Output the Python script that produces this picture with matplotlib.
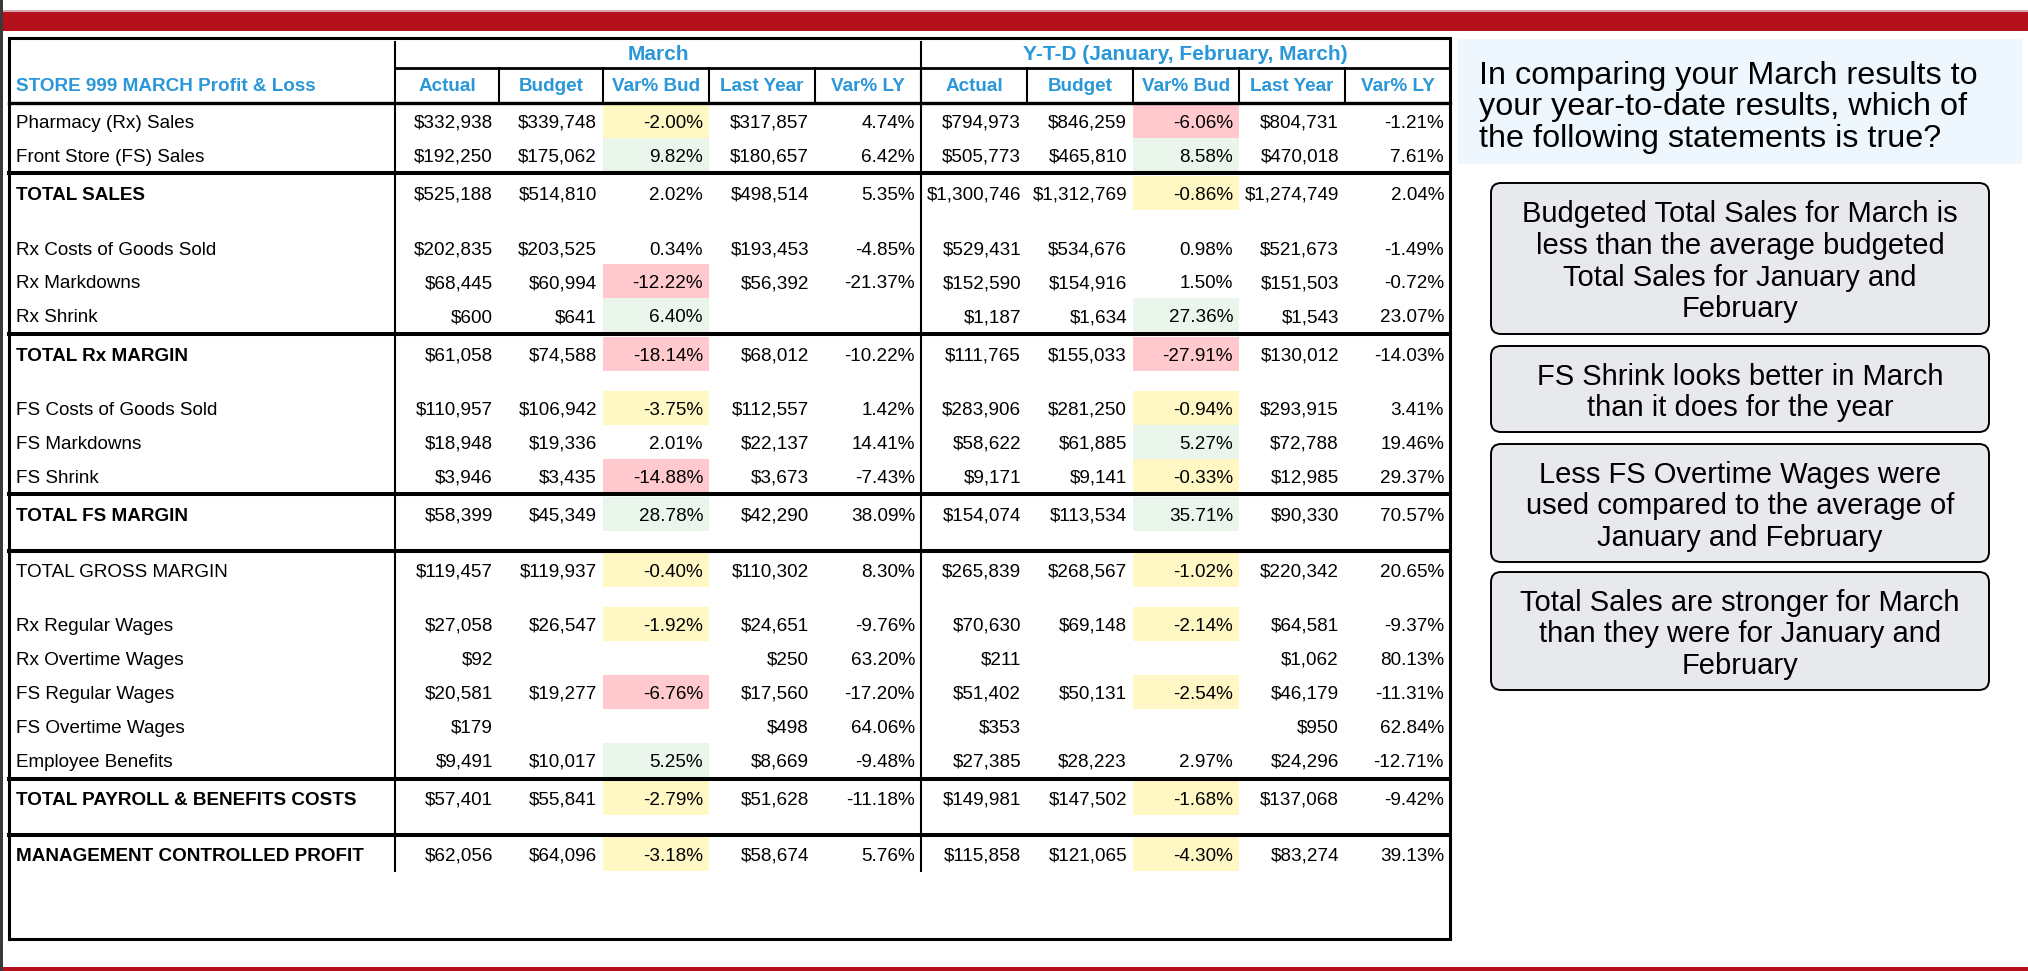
import matplotlib.pyplot as plt
from matplotlib.patches import Rectangle, FancyBboxPatch

plt.rcParams['font.family'] = ['Liberation Sans', 'DejaVu Sans']

# ---- data ----
row_labels = ['Pharmacy (Rx) Sales', 'Front Store (FS) Sales', 'TOTAL SALES',
              'Rx Costs of Goods Sold', 'Rx Markdowns', 'Rx Shrink', 'TOTAL Rx MARGIN',
              'FS Costs of Goods Sold', 'FS Markdowns', 'FS Shrink', 'TOTAL FS MARGIN',
              'TOTAL GROSS MARGIN', 'Rx Regular Wages', 'Rx Overtime Wages',
              'FS Regular Wages', 'FS Overtime Wages', 'Employee Benefits',
              'TOTAL PAYROLL & BENEFITS COSTS', 'MANAGEMENT CONTROLLED PROFIT']
bold_rows = ['TOTAL SALES', 'TOTAL Rx MARGIN', 'TOTAL FS MARGIN',
             'TOTAL PAYROLL & BENEFITS COSTS', 'MANAGEMENT CONTROLLED PROFIT']

mar_actual = [332938, 192250, 525188, 202835, 68445, 600, 61058, 110957, 18948, 3946, 58399,
              119457, 27058, 92, 20581, 179, 9491, 57401, 62056]
mar_budget = [339748, 175062, 514810, 203525, 60994, 641, 74588, 106942, 19336, 3435, 45349,
              119937, 26547, None, 19277, None, 10017, 55841, 64096]
mar_var_bud = [-2.00, 9.82, 2.02, 0.34, -12.22, 6.40, -18.14, -3.75, 2.01, -14.88, 28.78,
               -0.40, -1.92, None, -6.76, None, 5.25, -2.79, -3.18]
mar_last_year = [317857, 180657, 498514, 193453, 56392, None, 68012, 112557, 22137, 3673, 42290,
                 110302, 24651, 250, 17560, 498, 8669, 51628, 58674]
mar_var_ly = [4.74, 6.42, 5.35, -4.85, -21.37, None, -10.22, 1.42, 14.41, -7.43, 38.09,
              8.30, -9.76, 63.20, -17.20, 64.06, -9.48, -11.18, 5.76]

ytd_actual = [794973, 505773, 1300746, 529431, 152590, 1187, 111765, 283906, 58622, 9171, 154074,
              265839, 70630, 211, 51402, 353, 27385, 149981, 115858]
ytd_budget = [846259, 465810, 1312769, 534676, 154916, 1634, 155033, 281250, 61885, 9141, 113534,
              268567, 69148, None, 50131, None, 28223, 147502, 121065]
ytd_var_bud = [-6.06, 8.58, -0.86, 0.98, 1.50, 27.36, -27.91, -0.94, 5.27, -0.33, 35.71,
               -1.02, -2.14, None, -2.54, None, 2.97, -1.68, -4.30]
ytd_last_year = [804731, 470018, 1274749, 521673, 151503, 1543, 130012, 293915, 72788, 12985, 90330,
                 220342, 64581, 1062, 46179, 950, 24296, 137068, 83274]
ytd_var_ly = [-1.21, 7.61, 2.04, -1.49, -0.72, 23.07, -14.03, 3.41, 19.46, 29.37, 70.57,
              20.65, -9.37, 80.13, -11.31, 62.84, -12.71, -9.42, 39.13]

# highlight of the Var% Bud cells: y = yellow, p = pink, g = green
mar_flag = ['y', 'g', None, None, 'p', 'g', 'p', 'y', None, 'p', 'g',
            'y', 'y', None, 'p', None, 'g', 'y', 'y']
ytd_flag = ['p', 'g', 'y', None, None, 'g', 'p', 'y', 'g', 'y', 'g',
            'y', 'y', None, 'y', None, None, 'y', 'y']

col_heads = ['Actual', 'Budget', 'Var% Bud', 'Last Year', 'Var% LY']
title = 'STORE 999 MARCH Profit & Loss'
question = ['In comparing your March results to',
            'your year-to-date results, which of',
            'the following statements is true?']
answers = [['Budgeted Total Sales for March is', 'less than the average budgeted',
            'Total Sales for January and', 'February'],
           ['FS Shrink looks better in March', 'than it does for the year'],
           ['Less FS Overtime Wages were', 'used compared to the average of',
            'January and February'],
           ['Total Sales are stronger for March', 'than they were for January and',
            'February']]

# ---- layout (pixels) ----
W, H = 2028, 971
blue = '#2A97D8'
fills = {'y': '#FFF8C4', 'p': '#FFC9CE', 'g': '#EAF6EC'}
col_edges = [395, 499, 603, 709, 815, 921, 1027, 1133, 1239, 1345, 1450]
row_y = [121, 155, 193, 248, 281.5, 315.5, 354, 408, 442, 476, 514,
         570, 624, 658, 692, 726, 760, 798, 854]
thick_y = [173, 334, 494, 551, 779, 835]
fs = 13.6
cap = 0.716 * fs / 0.72   # cap height in px

fig = plt.figure(figsize=(W / 100, H / 100), dpi=100)
ax = fig.add_axes([0, 0, 1, 1])
ax.set_xlim(0, W)
ax.set_ylim(H, 0)
ax.axis('off')

# frame decorations
ax.add_patch(Rectangle((0, 10), W, 2, color='#D4A9AD', lw=0))
ax.add_patch(Rectangle((0, 12), W, 19, color='#B5111C', lw=0))
ax.add_patch(Rectangle((0, 967), W, 4, color='#B5111C', lw=0))
ax.add_patch(Rectangle((0, 0), 2.5, H, color='#3a3a3a', lw=0))


def money(v):
    return '' if v is None else '${:,.0f}'.format(v)


def pct(v):
    return '' if v is None else '{:.2f}%'.format(v)


# cell highlights
for i, yc in enumerate(row_y):
    for flag, c in ((mar_flag[i], 2), (ytd_flag[i], 7)):
        if flag:
            ax.add_patch(Rectangle((col_edges[c], yc - 17), col_edges[c + 1] - col_edges[c], 34,
                                   color=fills[flag], lw=0))

# lines
ax.add_patch(Rectangle((8.5, 38.5), 1450 - 8.5, 939 - 38.5, fill=False, lw=2.2, ec='black'))
ax.plot([395, 1450], [68, 68], color='black', lw=2)
ax.plot([8.5, 1450], [103, 103], color='black', lw=2.4)
for y in thick_y:
    ax.plot([8.5, 1450], [y, y], color='black', lw=2.9)
for x in (395, 921):
    ax.plot([x, x], [42, 871], color='black', lw=1.5)
for x in col_edges[1:-1]:
    ax.plot([x, x], [68, 103], color='black', lw=1.5)

# headers
ax.text(16, 84 + cap / 2, title, color=blue, fontsize=fs, fontweight='bold', va='baseline')
ax.text((395 + 921) / 2, 52 + 7.5, 'March', color=blue, fontsize=15, fontweight='bold',
        ha='center', va='baseline')
ax.text((921 + 1450) / 2, 52 + 7.5, 'Y-T-D (January, February, March)', color=blue,
        fontsize=15, fontweight='bold', ha='center', va='baseline')
for k in range(10):
    ax.text((col_edges[k] + col_edges[k + 1]) / 2, 84 + cap / 2, col_heads[k % 5], color=blue,
            fontsize=fs, fontweight='bold', ha='center', va='baseline')

# body
columns = [mar_actual, mar_budget, mar_var_bud, mar_last_year, mar_var_ly,
           ytd_actual, ytd_budget, ytd_var_bud, ytd_last_year, ytd_var_ly]
for i, yc in enumerate(row_y):
    base = yc + cap / 2
    ax.text(16, base, row_labels[i], fontsize=fs, va='baseline',
            fontweight='bold' if row_labels[i] in bold_rows else 'normal')
    for k, col in enumerate(columns):
        s = pct(col[i]) if k % 5 in (2, 4) else money(col[i])
        ax.text(col_edges[k + 1] - 6, base, s, fontsize=fs, ha='right', va='baseline')

# question panel
ax.add_patch(Rectangle((1458, 39), 2022 - 1458, 164 - 39, color='#EEF7FD', lw=0))
qfs = 23.3
qcap = 0.716 * qfs / 0.72
for j, line in enumerate(question):
    ax.text(1479, 72 + j * 31.5 + qcap / 2, line, fontsize=qfs, va='baseline')

boxes = [(183, 334), (346, 432), (444, 562), (572, 690)]
afs = 21
acap = 0.716 * afs / 0.72
for (y0, y1), lines in zip(boxes, answers):
    ax.add_patch(FancyBboxPatch((1491, y0), 1989 - 1491, y1 - y0,
                                boxstyle='round,pad=0,rounding_size=10',
                                fc='#E7E9ED', ec='black', lw=1.4))
    mid = (y0 + y1) / 2 + 1
    n = len(lines)
    for j, line in enumerate(lines):
        yc = mid + (j - (n - 1) / 2) * 31.7
        ax.text(1740, yc + acap / 2, line, fontsize=afs, ha='center', va='baseline')

fig.savefig('out.png', dpi=100)
